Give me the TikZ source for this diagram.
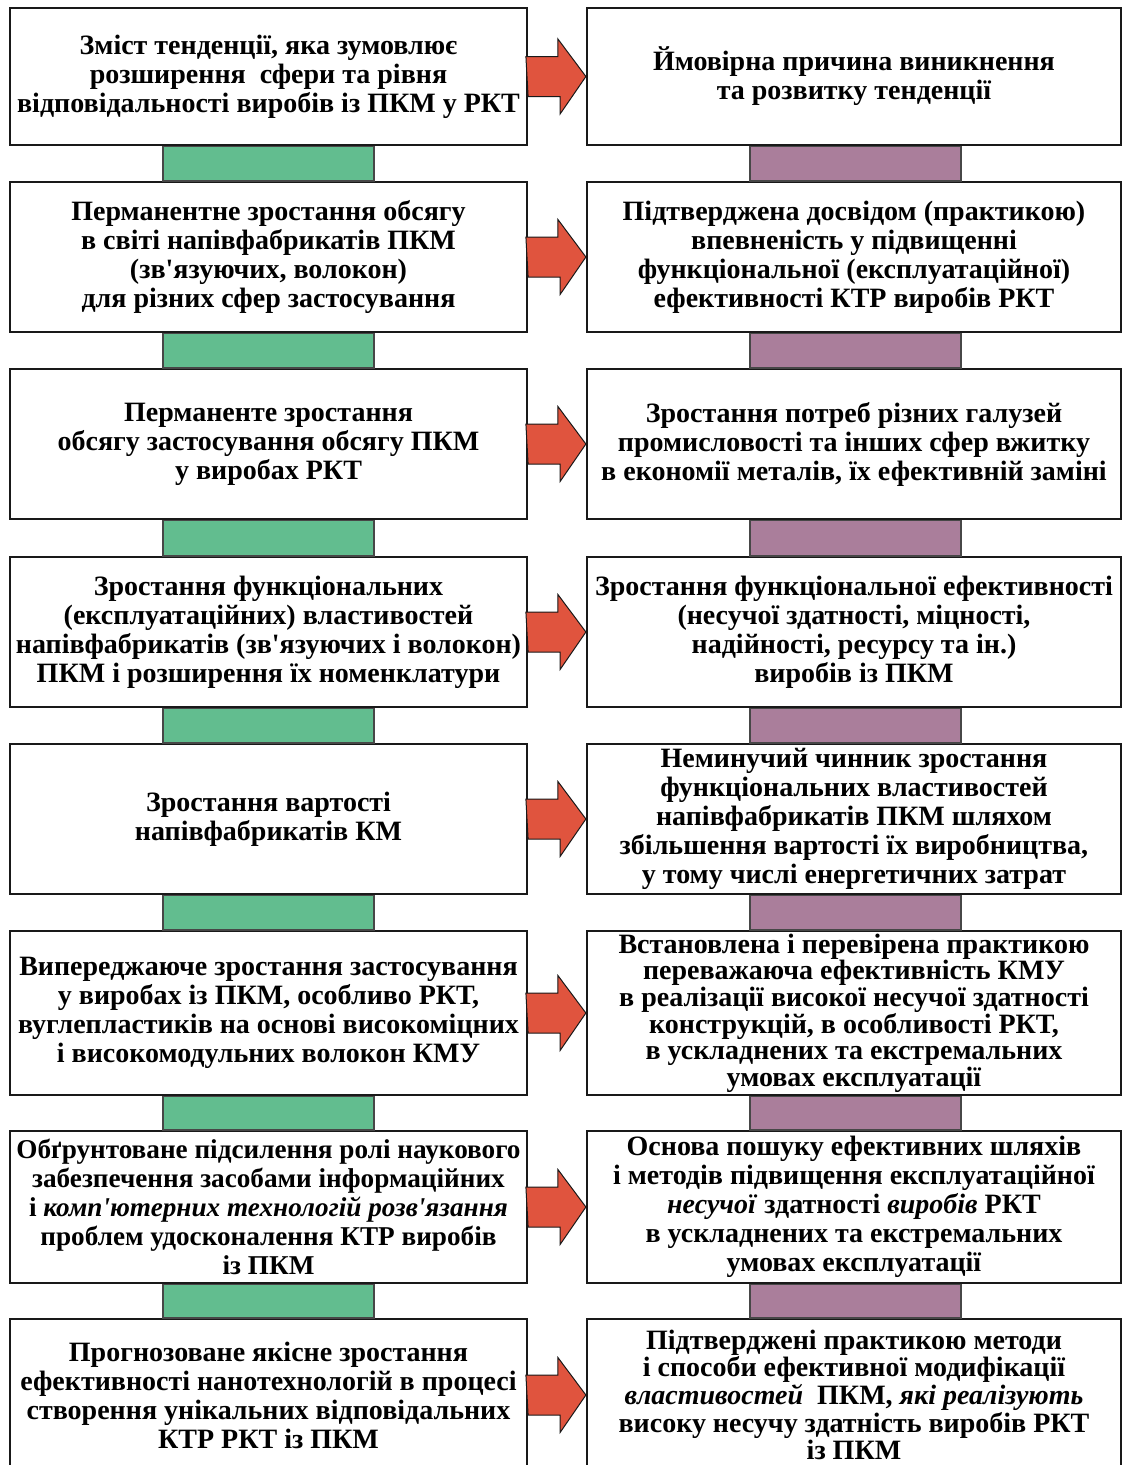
\documentclass[tikz,border=0pt]{standalone}
\usepackage{fontspec}
\setmainfont{Liberation Serif}[Ligatures=TeXOff]
\usetikzlibrary{calc}
\definecolor{barGreen}{RGB}{98,189,143}
\definecolor{barPurple}{RGB}{170,126,155}
\definecolor{arrowRed}{RGB}{224,84,62}
\definecolor{lineDark}{RGB}{25,25,25}
\tikzset{
  box/.style={draw=lineDark, line width=2.2pt, fill=white, align=center,
    inner sep=0pt, font=\fontsize{28}{29}\selectfont\bfseries},
  lbox/.style={box, minimum width=517pt},
  rbox/.style={box, minimum width=534pt},
  gbar/.style={draw=lineDark!80, line width=1.2pt, fill=barGreen},
  pbar/.style={draw=lineDark!80, line width=1.2pt, fill=barPurple},
  redarrow/.style={draw=lineDark, line width=1pt, fill=arrowRed, line join=miter},
}
\newcommand{\rowarrow}[2]{%
  \draw[redarrow] (#1.east) ++(0,20) -- ++(32,0) -- ++(0,17.5) -- (#2.west)
    -- ++(-28,-37.5) -- ++(0,17.5) -- ++(-32,0) -- cycle;}
\begin{document}
\begin{tikzpicture}[x=1pt,y=-1pt]
\path[use as bounding box] (0,0) rectangle (1122,1465);
\clip (0,0) rectangle (1122,1465);

% left column: tendencies
\node[lbox, minimum height=137pt] (l1) at (268.5,76.5)
  {Зміст тенденції, яка зумовлює\\розширення\ \ сфери та рівня\\відповідальності виробів із ПКМ у РКТ};
\node[lbox, minimum height=150pt] (l2) at (268.5,257)
  {Перманентне зростання обсягу\\в світі напівфабрикатів ПКМ\\(зв'язуючих, волокон)\\для різних сфер застосування};
\node[lbox, minimum height=150pt] (l3) at (268.5,444)
  {Перманенте зростання\\обсягу застосування обсягу ПКМ\\у виробах РКТ};
\node[lbox, minimum height=150pt] (l4) at (268.5,632)
  {Зростання функціональних\\(експлуатаційних) властивостей\\напівфабрикатів (зв'язуючих і волокон)\\ПКМ і розширення їх номенклатури};
\node[lbox, minimum height=150pt] (l5) at (268.5,819)
  {Зростання вартості\\напівфабрикатів КМ};
\node[lbox, minimum height=164pt] (l6) at (268.5,1013)
  {Випереджаюче зростання застосування\\у виробах із ПКМ, особливо РКТ,\\вуглепластиків на основі високоміцних\\і високомодульних волокон КМУ};
\node[lbox, minimum height=152pt, font=\fontsize{27.2}{29}\selectfont\bfseries] (l7) at (268.5,1207)
  {Обґрунтоване підсилення ролі наукового\\забезпечення засобами інформаційних\\і \textit{комп'ютерних технологій розв'язання}\\проблем удосконалення КТР виробів\\із ПКМ};
\node[lbox, minimum height=152pt] (l8) at (268.5,1395)
  {Прогнозоване якісне зростання\\ефективності нанотехнологій в процесі\\створення унікальних відповідальних\\КТР РКТ із ПКМ};

% right column: causes
\node[rbox, minimum height=137pt] (r1) at (854,76.5)
  {Ймовірна причина виникнення\\та розвитку тенденції};
\node[rbox, minimum height=150pt] (r2) at (854,257)
  {Підтверджена досвідом (практикою)\\впевненість у підвищенні\\функціональної (експлуатаційної)\\ефективності КТР виробів РКТ};
\node[rbox, minimum height=150pt] (r3) at (854,444)
  {Зростання потреб різних галузей\\промисловості та інших сфер вжитку\\в економії металів, їх ефективній заміні};
\node[rbox, minimum height=150pt] (r4) at (854,632)
  {Зростання функціональної ефективності\\(несучої здатності, міцності,\\надійності, ресурсу та ін.)\\виробів із ПКМ};
\node[rbox, minimum height=150pt] (r5) at (854,819)
  {Неминучий чинник зростання\\функціональних властивостей\\напівфабрикатів ПКМ шляхом\\збільшення вартості їх виробництва,\\у тому числі енергетичних затрат};
\node[rbox, minimum height=164pt, font=\fontsize{28}{26.6}\selectfont\bfseries] (r6) at (854,1013)
  {Встановлена і перевірена практикою\\переважаюча ефективність КМУ\\в реалізації високої несучої здатності\\конструкцій, в особливості РКТ,\\в ускладнених та екстремальних\\умовах експлуатації};
\node[rbox, minimum height=152pt] (r7) at (854,1207)
  {Основа пошуку ефективних шляхів\\і методів підвищення експлуатаційної\\\textit{несучої} здатності \textit{виробів} РКТ\\в ускладнених та екстремальних\\умовах експлуатації};
\node[rbox, minimum height=152pt, font=\fontsize{28}{27.6}\selectfont\bfseries] (r8) at (854,1395)
  {Підтверджені практикою методи\\і способи ефективної модифікації\\\textit{властивостей}\ \ ПКМ, \textit{які реалізують}\\високу несучу здатність виробів РКТ\\із ПКМ};

% vertical links between consecutive boxes
\foreach \a/\b in {1/2,2/3,3/4,4/5,5/6,6/7,7/8}{
  \path[gbar] ($(l\a.south)+(-105.5,0)$) rectangle ($(l\b.north)+(105.5,0)$);
  \path[pbar] ($(r\a.south)+(-104,0)$) rectangle ($(r\b.north)+(107,0)$);
}

% block arrows from each tendency to its cause
\foreach \i in {1,...,8}{\rowarrow{l\i}{r\i}}
\end{tikzpicture}
\end{document}
